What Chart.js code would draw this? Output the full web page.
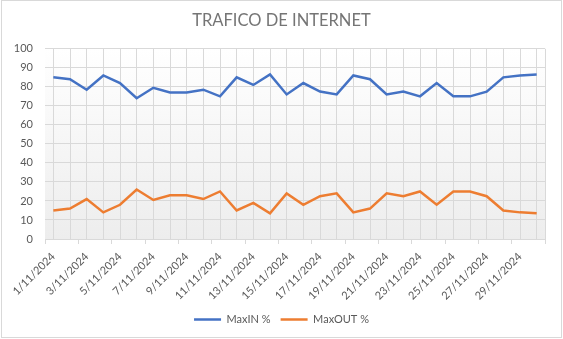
<!DOCTYPE html>
<html>
<head>
<meta charset="utf-8">
<script src="https://cdn.jsdelivr.net/npm/chart.js@4"></script>
<style>
  html, body { margin: 0; padding: 0; background: #fff; }
  #wrap { width: 563px; height: 339px; position: relative; }
</style>
</head>
<body>
<div id="wrap"><canvas id="chart" width="563" height="339"></canvas></div>
<script>
const dates = [
    '1/11/2024', '2/11/2024', '3/11/2024', '4/11/2024', '5/11/2024',
    '6/11/2024', '7/11/2024', '8/11/2024', '9/11/2024', '10/11/2024',
    '11/11/2024', '12/11/2024', '13/11/2024', '14/11/2024', '15/11/2024',
    '16/11/2024', '17/11/2024', '18/11/2024', '19/11/2024', '20/11/2024',
    '21/11/2024', '22/11/2024', '23/11/2024', '24/11/2024', '25/11/2024',
    '26/11/2024', '27/11/2024', '28/11/2024', '29/11/2024', '30/11/2024'
];
const maxIn = [85, 84, 78.5, 86, 82, 74, 79.5, 77, 77, 78.5,
               75, 85, 81, 86.5, 76, 82, 77.5, 76, 86, 84,
               76, 77.5, 75, 82, 75, 75, 77.5, 85, 86, 86.5];
const maxOut = [15, 16, 21, 14, 18, 26, 20.5, 23, 23, 21,
                25, 15, 19, 13.5, 24, 18, 22.5, 24, 14, 16,
                24, 22.5, 25, 18, 25, 25, 22.5, 15, 14, 13.5];
const yTicks = [0, 10, 20, 30, 40, 50, 60, 70, 80, 90, 100];

const gridColor = '#d9d9d9';
const textColor = '#595959';
const fontFamily = 'Lato, "Open Sans", sans-serif';

const backdrop = {
    id: 'backdrop',
    beforeDraw(chart) {
        const { ctx, chartArea: a } = chart;
        ctx.save();
        ctx.fillStyle = '#ffffff';
        ctx.fillRect(0, 0, chart.width, chart.height);
        const g = ctx.createLinearGradient(0, a.top, 0, a.bottom);
        g.addColorStop(0, '#ffffff');
        g.addColorStop(1, '#ededed');
        ctx.fillStyle = g;
        ctx.fillRect(a.left, a.top, a.right - a.left, a.bottom - a.top);
        ctx.strokeStyle = gridColor;
        ctx.lineWidth = 1;
        ctx.strokeRect(1.5, 0.5, 560, 337);
        ctx.restore();
    }
};

new Chart(document.getElementById('chart'), {
    type: 'line',
    data: {
        labels: dates,
        datasets: [
            {
                label: 'MaxIN %',
                data: maxIn,
                borderColor: '#4472c4',
                backgroundColor: '#4472c4',
                borderWidth: 2.5,
                pointRadius: 0,
                tension: 0
            },
            {
                label: 'MaxOUT %',
                data: maxOut,
                borderColor: '#ed7d31',
                backgroundColor: '#ed7d31',
                borderWidth: 2.5,
                pointRadius: 0,
                tension: 0
            }
        ]
    },
    options: {
        responsive: false,
        animation: false,
        layout: { padding: { left: 0, right: 0, top: 0, bottom: 4 } },
        plugins: {
            title: {
                display: true,
                text: 'TRAFICO DE INTERNET',
                color: '#757575',
                font: { family: fontFamily, size: 16.5, weight: 'normal' },
                padding: { top: 11, bottom: 18 }
            },
            legend: {
                position: 'bottom',
                labels: {
                    usePointStyle: true,
                    pointStyle: 'line',
                    pointStyleWidth: 27,
                    color: textColor,
                    font: { family: fontFamily, size: 11 },
                    padding: 10
                }
            },
            tooltip: { enabled: false }
        },
        scales: {
            x: {
                offset: true,
                weight: 0,
                grid: { color: gridColor, drawTicks: false, offset: false },
                border: { display: false },
                ticks: {
                    autoSkip: false,
                    maxRotation: 45,
                    minRotation: 45,
                    padding: 6,
                    color: textColor,
                    font: { family: fontFamily, size: 11 },
                    callback: (v, i) => (i % 2 === 0 ? dates[i] : '')
                },
                afterFit: s => { s.height = 60; }
            },
            x2: {
                type: 'category',
                position: 'bottom',
                offset: true,
                weight: -1,
                labels: dates,
                grid: {
                    offset: true,
                    tickLength: 5,
                    color: c => (c.type === 'scale' ? gridColor : 'transparent'),
                    tickColor: c => (c.type === 'scale' || c.index % 2 === 0 ? gridColor : 'transparent')
                },
                border: { display: false },
                ticks: { display: false },
                afterFit: s => { s.height = 5; }
            },
            y: {
                min: 0,
                max: 100,
                afterBuildTicks: s => { s.ticks = yTicks.map(v => ({ value: v })); },
                grid: { color: gridColor, drawTicks: false },
                border: { display: false },
                ticks: {
                    padding: 12,
                    color: textColor,
                    font: { family: fontFamily, size: 11 }
                },
                afterFit: s => { s.width = 45; }
            },
            // empty right-hand spacer so title and legend centre on the full width
            yRight: {
                position: 'right',
                min: 0,
                max: 100,
                grid: { display: false },
                border: { display: false },
                ticks: { display: false },
                afterFit: s => { s.width = 18; }
            }
        }
    },
    plugins: [backdrop]
});
</script>
</body>
</html>
